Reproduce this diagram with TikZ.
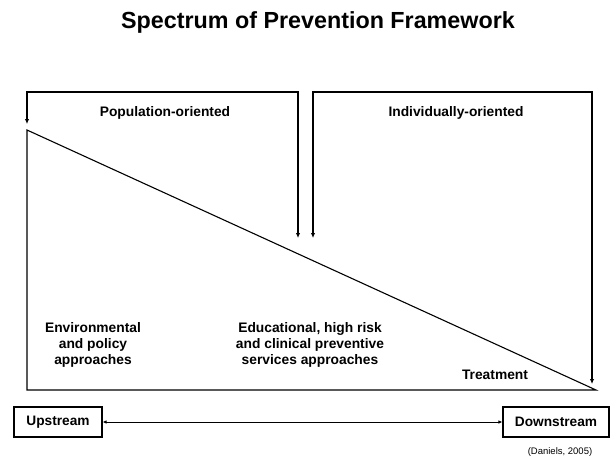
\documentclass[tikz,border=0pt]{standalone}
\usepackage{fontspec}
\setmainfont{Liberation Sans}
\usetikzlibrary{arrows.meta}

\begin{document}
\begin{tikzpicture}[x=1pt,y=-1pt,line width=1.1pt,
		tip/.style={-{Latex[length=5pt,width=4.5pt]}},
		lbl/.style={font=\bfseries\fontsize{13.8}{16}\selectfont,align=center},
		endbox/.style={draw,line width=1.1pt,minimum height=30pt,inner sep=0pt,font=\bfseries\fontsize{13.7}{15}\selectfont}]
	\useasboundingbox (0,0) rectangle (612,459);
	\node[font=\bfseries\fontsize{23.3}{27}\selectfont] (title) at (318,22) {Spectrum of Prevention Framework};
	\coordinate (apex) at (27,130);
	\coordinate (base) at (27,390);
	\coordinate (point) at (596,390);
	\draw (apex) -- (base) -- (point) -- cycle;
	\coordinate (popmid) at (160,92);
	\coordinate (popL) at (27,124);
	\coordinate (popR) at (298,238);
	\draw[tip] (popmid) -| (popL);
	\draw[tip] (popmid) -| (popR);
	\coordinate (indmid) at (450,92);
	\coordinate (indL) at (313,238);
	\coordinate (indR) at (592,384);
	\draw[tip] (indmid) -| (indL);
	\draw[tip] (indmid) -| (indR);
	\node[lbl] (pop) at (165,113) {Population-oriented};
	\node[lbl] (ind) at (456,113) {Individually-oriented};
	\node[lbl] (env) at (93,345) {Environmental\\and policy\\approaches};
	\node[lbl] (edu) at (310,345) {Educational, high risk\\and clinical preventive\\services approaches};
	\node[lbl] (treat) at (495,375) {Treatment};
	\node[endbox,minimum width=88pt] (up) at (58,422) {\raisebox{-1pt}{Upstream}};
	\node[endbox,minimum width=106pt] (down) at (556,422) {\raisebox{-1pt}{Downstream}};
	\draw[line width=0.8pt,{Latex[length=4pt,width=3.5pt]}-{Latex[length=4pt,width=3.5pt]}] (up) -- (down);
	\node[font=\fontsize{9.5}{11}\selectfont] (ref) at (560,452) {(Daniels, 2005)};
\end{tikzpicture}
\end{document}
